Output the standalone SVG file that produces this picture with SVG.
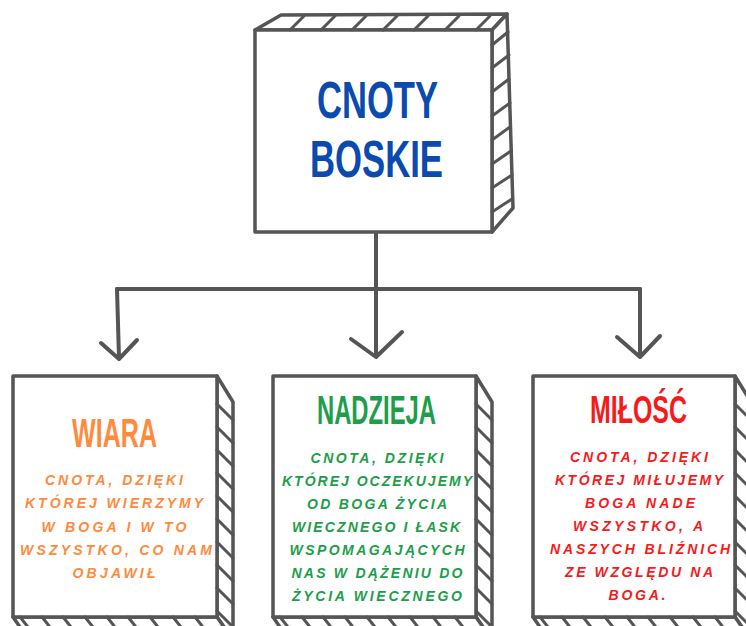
<svg xmlns="http://www.w3.org/2000/svg" width="746" height="626" viewBox="0 0 746 626">
<defs>
<style>
.box{fill:#fff;stroke:#555;stroke-width:3.5;stroke-linejoin:round}
.hatch{fill:none;stroke:#555;stroke-width:3;stroke-linecap:round}
.conn{fill:none;stroke:#555;stroke-width:4;stroke-linecap:round;stroke-linejoin:round}
.title{font-family:"Liberation Sans",Arial,sans-serif;font-weight:bold}
.body{font-family:"Liberation Sans",Arial,sans-serif;font-weight:bold;font-style:italic;font-size:14px;text-anchor:middle}
.blue{fill:#0B4AAE}
.orange{fill:#FF8A3D}
.green{fill:#1C9E4B}
.red{fill:#F51B1B}
</style>
</defs>
<rect width="746" height="626" fill="#fff"/>

<g id="connectors">
<path class="conn" d="M376 232 L376 356"/>
<path class="conn" d="M117 289 L640 289"/>
<path class="conn" d="M117 289 L119 358"/>
<path class="conn" d="M640 289 L640 356"/>
<path class="conn" d="M101 343 L119 359 L137 340"/>
<path class="conn" d="M351 339 L376 357 L402 332"/>
<path class="conn" d="M617 337 L640 357 L660 336"/>
</g>

<g id="node-cnoty-boskie">
<polygon class="box" points="255,30 281,15 507,14 492,30"/>
<polygon class="box" points="492,30 507,14 513,208 492,232"/>
<rect class="box" x="255" y="30" width="237" height="202"/>
<g class="hatch">
<path d="M290 30 L304 16 M321 30 L335 16 M352 30 L366 16 M383 30 L397 16 M414 30 L428 16 M445 30 L459 16 M476 30 L490 16"/>
<path d="M492 45 L508 32 M492 68 L509 55 M492 92 L509 79 M492 116 L510 103 M492 140 L510 127 M492 164 L511 151 M492 188 L512 175 M492 212 L512 199"/>
</g>
<text class="title blue" x="317" y="118" font-size="52" textLength="121" lengthAdjust="spacingAndGlyphs">CNOTY</text>
<text class="title blue" x="310" y="177" font-size="52" textLength="133" lengthAdjust="spacingAndGlyphs">BOSKIE</text>
</g>

<g id="node-wiara">
<polygon class="box" points="217,376 233,402 233,640 217,617"/>
<polygon class="box" points="13,617 217,617 233,640 29,640"/>
<rect class="box" x="13" y="376" width="204" height="241"/>
<g class="hatch">
<path d="M217 404 L233 420 M217 427 L233 443 M217 450 L233 466 M217 473 L233 489 M217 496 L233 512 M217 519 L233 535 M217 542 L233 558 M217 565 L233 581 M217 588 L233 604 M217 611 L233 627"/>
<path d="M20 617 L32 632 M42 617 L54 632 M63 617 L75 632 M85 617 L97 632 M107 617 L119 632 M128 617 L140 632 M150 617 L162 632 M173 617 L185 632 M195 617 L207 632"/>
</g>
<text class="title orange" x="72" y="447" font-size="40" textLength="85" lengthAdjust="spacingAndGlyphs">WIARA</text>
<text class="body orange" x="114" y="485" textLength="138">CNOTA, DZIĘKI</text>
<text class="body orange" x="114" y="508" textLength="178">KTÓREJ WIERZYMY</text>
<text class="body orange" x="114" y="532" textLength="145">W BOGA I W TO</text>
<text class="body orange" x="116" y="555" textLength="192">WSZYSTKO, CO NAM</text>
<text class="body orange" x="114" y="578" textLength="83">OBJAWIŁ</text>
</g>

<g id="node-nadzieja">
<polygon class="box" points="476,376 492,402 492,640 476,617"/>
<polygon class="box" points="273,617 476,617 492,640 289,640"/>
<rect class="box" x="273" y="376" width="203" height="241"/>
<g class="hatch">
<path d="M476 404 L492 420 M476 427 L492 443 M476 450 L492 466 M476 473 L492 489 M476 496 L492 512 M476 519 L492 535 M476 542 L492 558 M476 565 L492 581 M476 588 L492 604 M476 611 L492 627"/>
<path d="M280 617 L292 632 M302 617 L314 632 M323 617 L335 632 M345 617 L357 632 M367 617 L379 632 M388 617 L400 632 M410 617 L422 632 M433 617 L445 632 M455 617 L467 632"/>
</g>
<text class="title green" x="317" y="424" font-size="40" textLength="119" lengthAdjust="spacingAndGlyphs">NADZIEJA</text>
<text class="body green" x="377" y="463" textLength="133">CNOTA, DZIĘKI</text>
<text class="body green" x="377" y="486" textLength="190">KTÓREJ OCZEKUJEMY</text>
<text class="body green" x="377" y="509" textLength="140">OD BOGA ŻYCIA</text>
<text class="body green" x="376" y="532" textLength="168">WIECZNEGO I ŁASK</text>
<text class="body green" x="377" y="555" textLength="175">WSPOMAGAJĄCYCH</text>
<text class="body green" x="377" y="578" textLength="171">NAS W DĄŻENIU DO</text>
<text class="body green" x="377" y="601" textLength="170">ŻYCIA WIECZNEGO</text>
</g>

<g id="node-milosc">
<polygon class="box" points="735,376 751,402 751,640 735,617"/>
<polygon class="box" points="533,617 735,617 751,640 549,640"/>
<rect class="box" x="533" y="376" width="202" height="241"/>
<g class="hatch">
<path d="M735 404 L751 420 M735 427 L751 443 M735 450 L751 466 M735 473 L751 489 M735 496 L751 512 M735 519 L751 535 M735 542 L751 558 M735 565 L751 581 M735 588 L751 604 M735 611 L751 627"/>
<path d="M540 617 L552 632 M562 617 L574 632 M583 617 L595 632 M605 617 L617 632 M627 617 L639 632 M648 617 L660 632 M670 617 L682 632 M693 617 L705 632 M715 617 L727 632"/>
</g>
<text class="title red" x="590" y="423" font-size="38" textLength="97" lengthAdjust="spacingAndGlyphs">MIŁOŚĆ</text>
<text class="body red" x="639" y="462" textLength="138">CNOTA, DZIĘKI</text>
<text class="body red" x="639" y="485" textLength="168">KTÓREJ MIŁUJEMY</text>
<text class="body red" x="640" y="508" textLength="110">BOGA NADE</text>
<text class="body red" x="638" y="531" textLength="130">WSZYSTKO, A</text>
<text class="body red" x="640" y="554" textLength="180">NASZYCH BLIŹNICH</text>
<text class="body red" x="639" y="577" textLength="148">ZE WZGLĘDU NA</text>
<text class="body red" x="637" y="600" textLength="57">BOGA.</text>
</g>
</svg>
